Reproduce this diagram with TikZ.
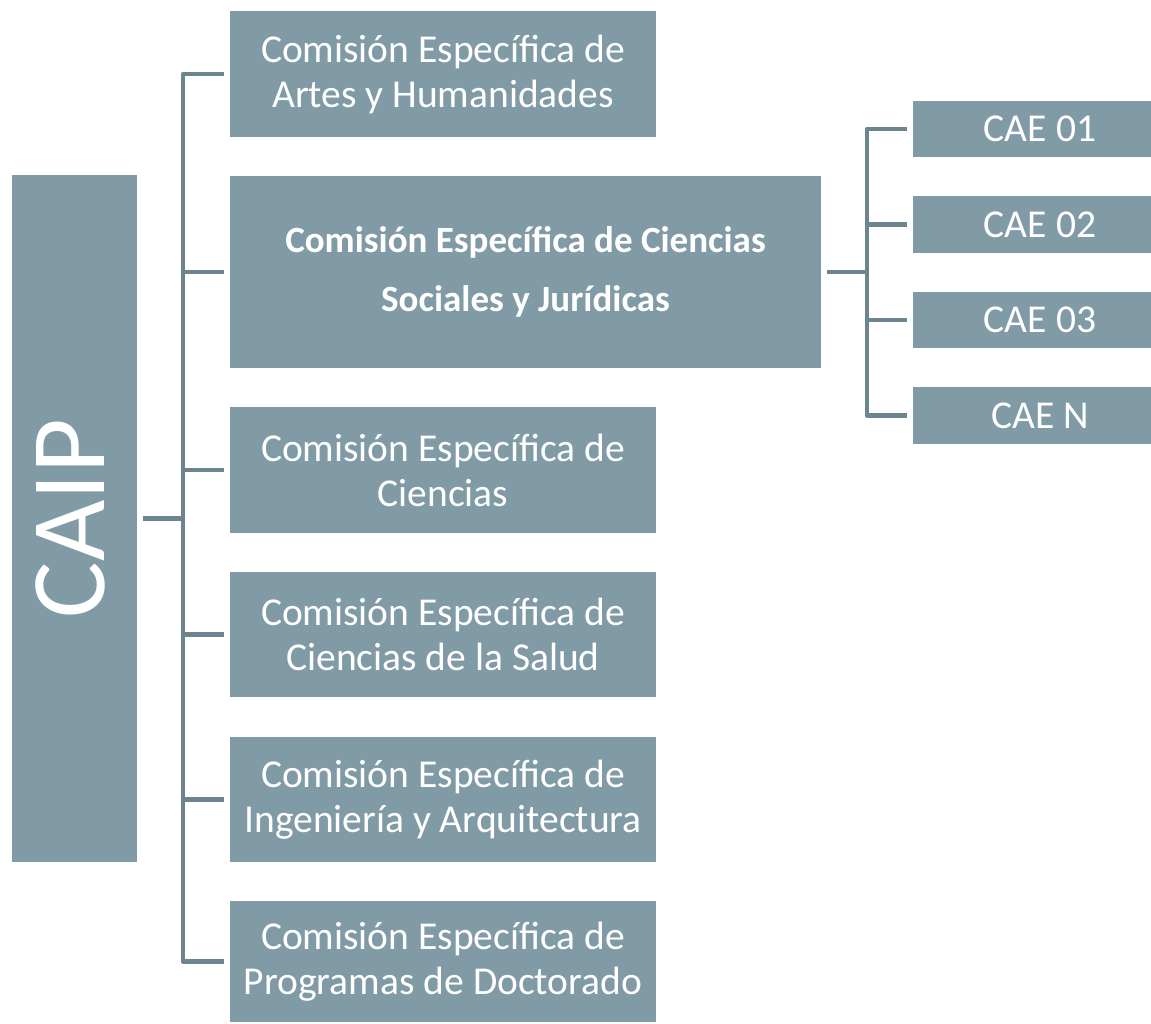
\documentclass[tikz,border=0pt]{standalone}
\usepackage{fontspec}
\setmainfont{Carlito}
\definecolor{boxc}{RGB}{129,155,166}
\definecolor{linec}{RGB}{108,133,143}
\tikzset{
  orgbox/.style={fill=boxc, draw=none, text=white, inner sep=0pt, align=center,
    font=\fontsize{39.5}{45}\selectfont},
  boldbox/.style={orgbox, font=\fontsize{37}{59}\selectfont\bfseries},
  conn/.style={draw=linec, line width=4.5pt, line join=round},
}
\begin{document}
\begin{tikzpicture}[x=1pt,y=-1pt]
\useasboundingbox (0,0) rectangle (1151,1023);
% root
\node[orgbox, minimum width=687pt, minimum height=125pt, rotate=90, text depth=8pt,
  font=\fontsize{106}{106}\selectfont] (caip) at (74.5,518.5) {CAIP};
% commissions
\node[orgbox, minimum width=426pt, minimum height=126pt] (b1) at (443,74) {Comisión Específica de\\Artes y Humanidades};
\node[boldbox, minimum width=591pt, minimum height=192pt] (b2) at (525.5,272) {Comisión Específica de Ciencias\\Sociales y Jurídicas};
\node[orgbox, minimum width=426pt, minimum height=126pt] (b3) at (443,470) {Comisión Específica de\\Ciencias};
\node[orgbox, minimum width=426pt, minimum height=125pt] (b4) at (443,634.5) {Comisión Específica de\\Ciencias de la Salud};
\node[orgbox, minimum width=426pt, minimum height=125pt] (b5) at (443,799.5) {Comisión Específica de\\Ingeniería y Arquitectura};
\node[orgbox, minimum width=426pt, minimum height=121pt] (b6) at (443,961.5) {Comisión Específica de\\Programas de Doctorado};
% CAE boxes (they run past the right edge of the picture)
\node[orgbox, minimum width=254pt, minimum height=56pt] (cae1) at (1040,129) {CAE 01};
\node[orgbox, minimum width=254pt, minimum height=57pt] (cae2) at (1040,224.5) {CAE 02};
\node[orgbox, minimum width=254pt, minimum height=56pt] (cae3) at (1040,320) {CAE 03};
\node[orgbox, minimum width=254pt, minimum height=57pt] (caen) at (1040,415.5) {CAE N};
% buses
\coordinate (bus) at (183,0);
\coordinate (bus2) at (867,0);
% left tree
\draw[conn] ([xshift=-6pt]b1.west) -- (bus |- b1.west) -- (bus |- b6.west) -- ([xshift=-6pt]b6.west);
\foreach \b in {b2,b3,b4,b5}{
  \draw[conn] (bus |- \b.west) -- ([xshift=-6pt]\b.west);
}
\draw[conn] ([xshift=6pt]caip.south) -- (bus |- caip.south);
% right tree
\draw[conn] ([xshift=-6pt]cae1.west) -- (bus2 |- cae1.west) -- (bus2 |- caen.west) -- ([xshift=-6pt]caen.west);
\foreach \b in {cae2,cae3}{
  \draw[conn] (bus2 |- \b.west) -- ([xshift=-6pt]\b.west);
}
\draw[conn] ([xshift=6pt]b2.east) -- (bus2 |- b2.east);
\end{tikzpicture}
\end{document}
